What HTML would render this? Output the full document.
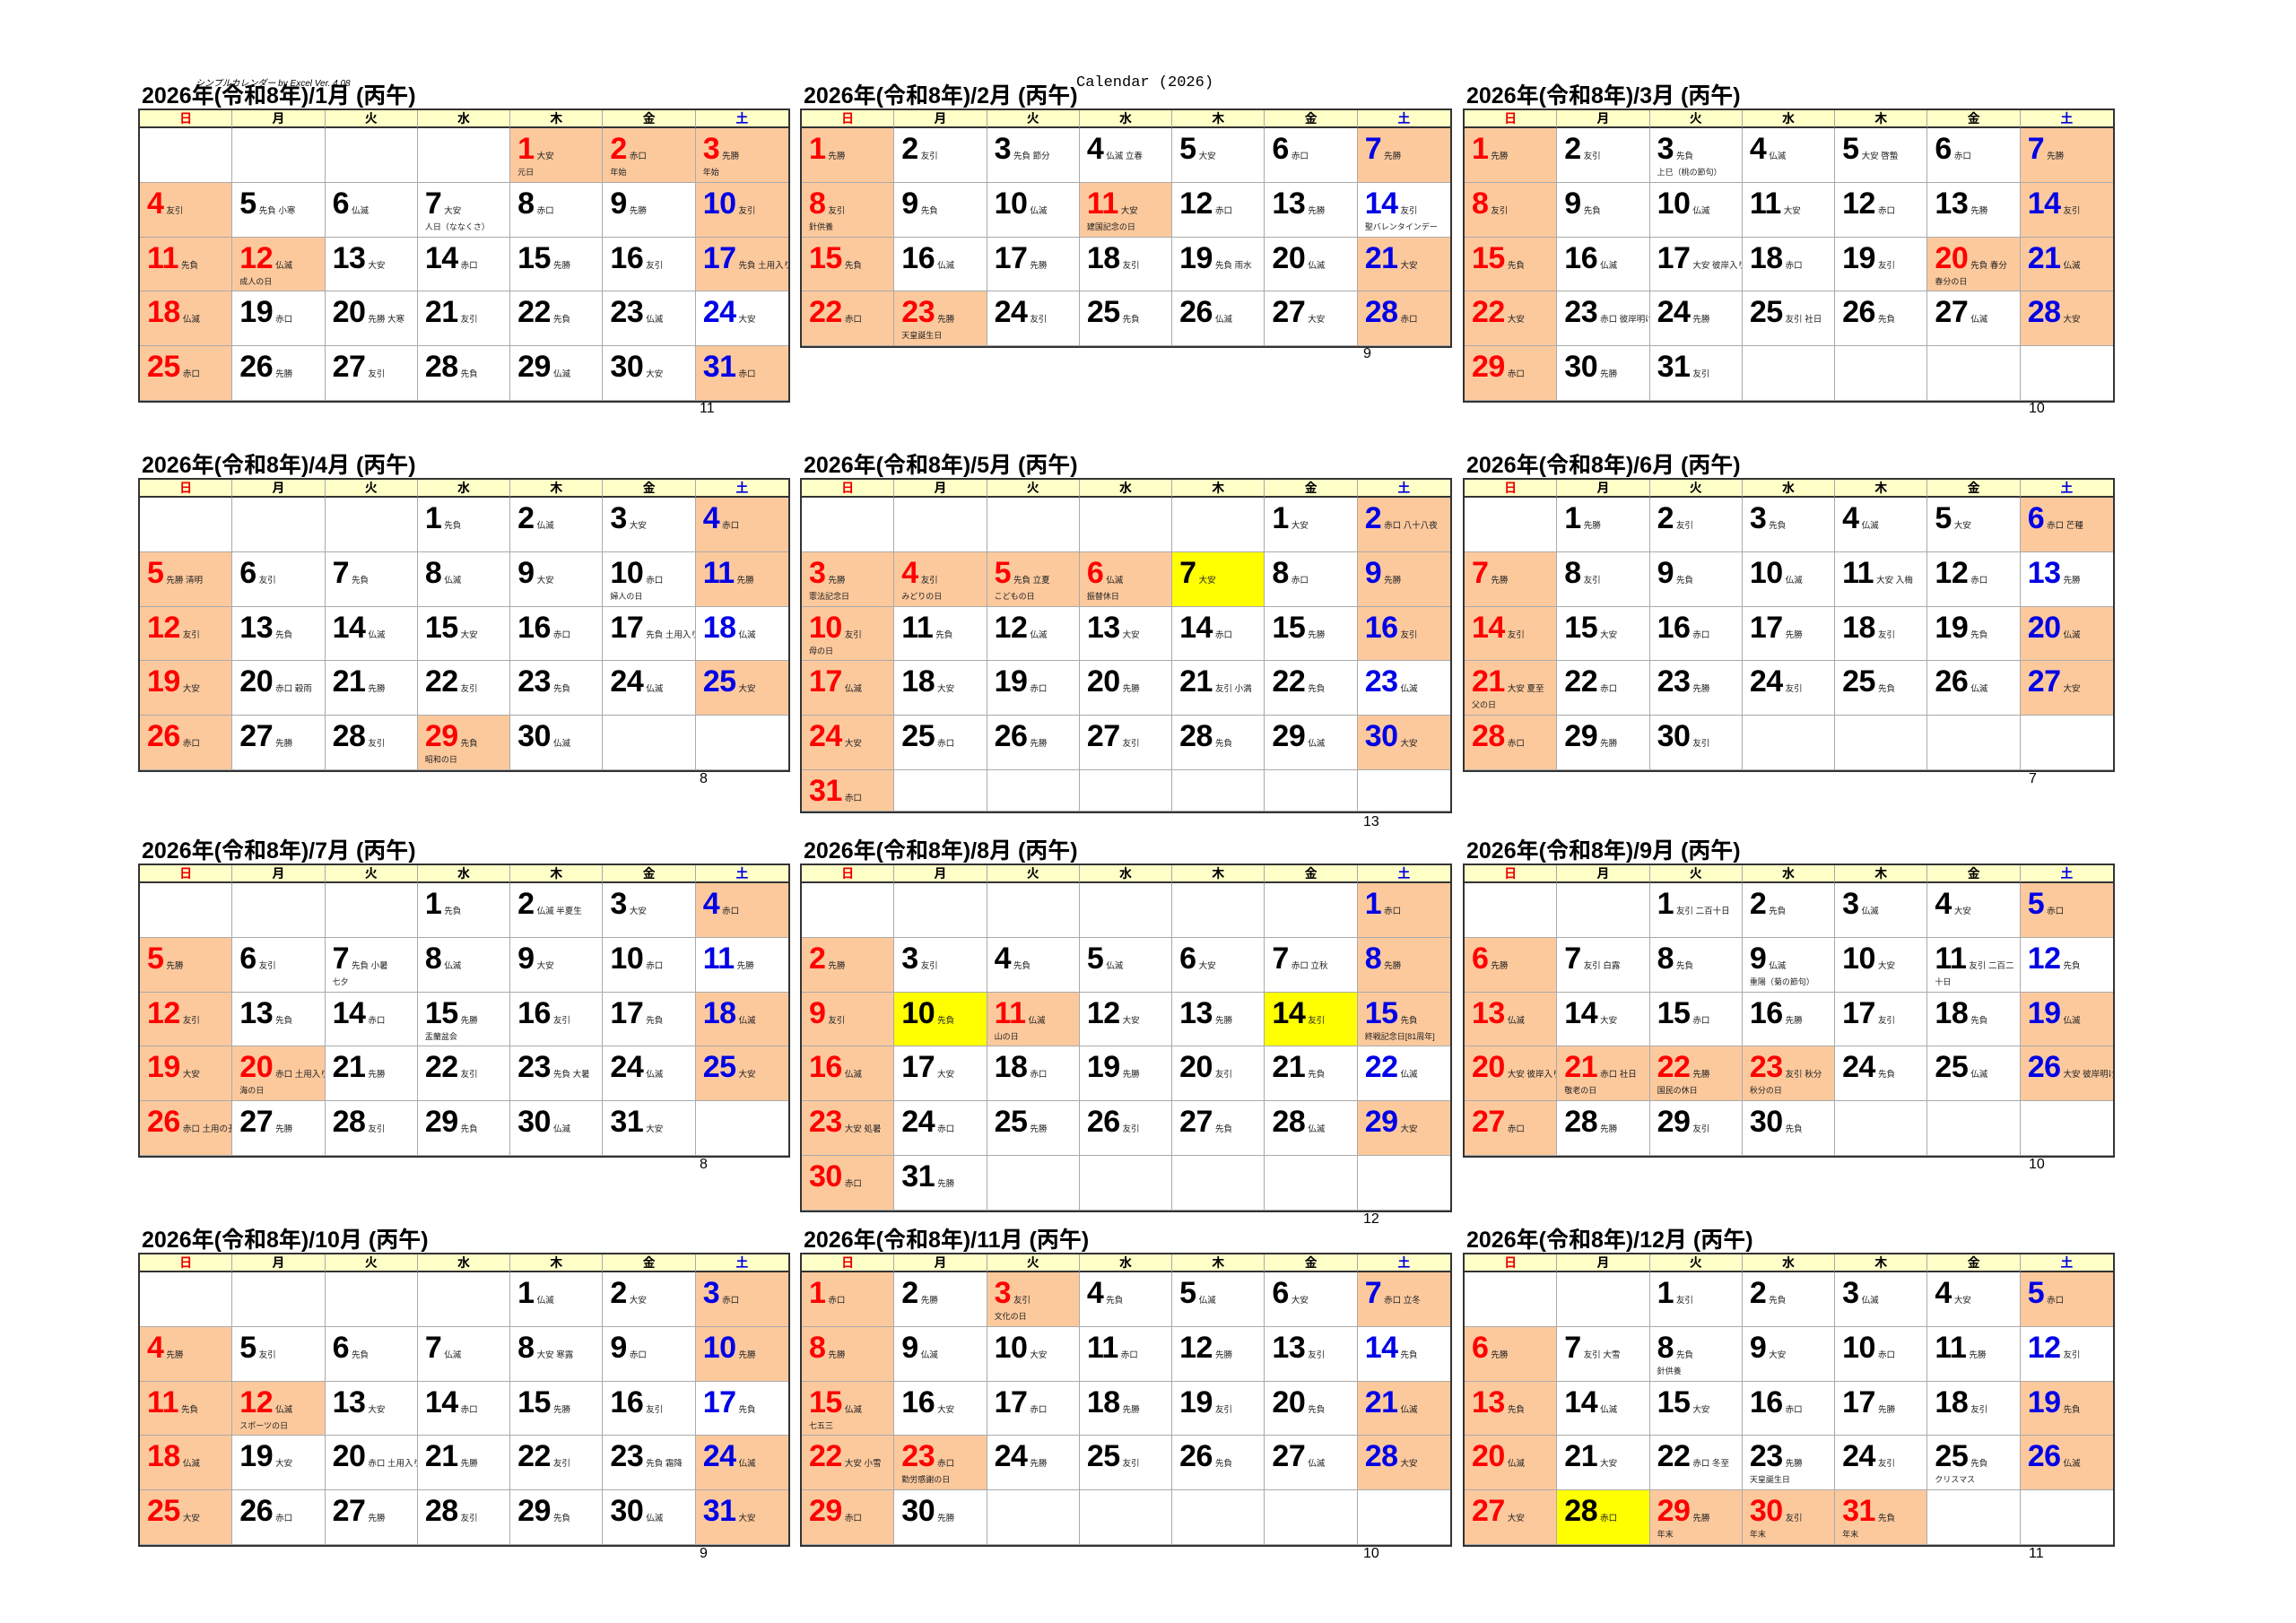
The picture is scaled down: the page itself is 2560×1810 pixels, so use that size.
<!DOCTYPE html>
<html><head><meta charset="utf-8"><style>
body{margin:0;width:2560px;height:1810px;background:#fff;position:relative;overflow:hidden;font-family:"Liberation Sans","Noto Sans CJK JP",sans-serif}
.m{position:absolute;width:727px;display:grid;grid-template-columns:repeat(7,1fr);grid-template-rows:20px;grid-auto-rows:60.8px;border:2px solid #333;box-sizing:border-box;background:#fff}
.m.s6{grid-template-rows:20px repeat(5,60.8px) 46px}
.m>div{border-right:1px solid #aaa;border-bottom:1px solid #aaa;position:relative;padding:6px 0 0 8px;line-height:34px;white-space:nowrap;overflow:hidden;color:#000;box-sizing:border-box}
.m>div:nth-child(7n){border-right:0}
.m>div.w{background:#ffffc8;border-bottom:2px solid #333;font-size:14px;font-weight:bold;text-align:center;line-height:18px;padding:0}
.w.r{color:#e00}.w.b{color:#0000e0}
b{font-size:34px;font-weight:bold;letter-spacing:-.5px}
i{font-style:normal;font-size:9.5px;margin-left:3px;color:#222}
u{position:absolute;left:8px;top:44px;font-size:9px;text-decoration:none;line-height:10px;color:#222}
.o{background:#fcc99d}.y{background:#ffff00}.r b{color:#f00}.b b{color:#0000e6}
.t{position:absolute;font-size:25px;font-weight:bold;line-height:28px;white-space:nowrap}
.p{position:absolute;font-family:"Liberation Sans Narrow","Liberation Sans",sans-serif;font-size:16px;line-height:18px}
</style></head><body>
<div style="position:absolute;left:218px;top:84px;font-size:10px;font-style:italic;white-space:nowrap">シンプルカレンダー by Excel Ver. 4.08</div>
<div style="position:absolute;left:1200px;top:83px;font-family:'Liberation Mono',monospace;font-size:17px;white-space:nowrap">Calendar (2026)</div>

<!-- Jan -->
<div class="t" style="left:158px;top:93px">2026年(令和8年)/1月 (丙午)</div>
<div class="m" style="left:154px;top:121px">
<div class="w r">日</div><div class="w">月</div><div class="w">火</div><div class="w">水</div><div class="w">木</div><div class="w">金</div><div class="w b">土</div>
<div></div><div></div><div></div><div></div><div class="o r"><b>1</b><i>大安</i><u>元日</u></div><div class="o r"><b>2</b><i>赤口</i><u>年始</u></div><div class="o r"><b>3</b><i>先勝</i><u>年始</u></div>
<div class="o r"><b>4</b><i>友引</i></div><div><b>5</b><i>先負 小寒</i></div><div><b>6</b><i>仏滅</i></div><div><b>7</b><i>大安</i><u>人日（ななくさ）</u></div><div><b>8</b><i>赤口</i></div><div><b>9</b><i>先勝</i></div><div class="o b"><b>10</b><i>友引</i></div>
<div class="o r"><b>11</b><i>先負</i></div><div class="o r"><b>12</b><i>仏滅</i><u>成人の日</u></div><div><b>13</b><i>大安</i></div><div><b>14</b><i>赤口</i></div><div><b>15</b><i>先勝</i></div><div><b>16</b><i>友引</i></div><div class="o b"><b>17</b><i>先負 土用入り</i></div>
<div class="o r"><b>18</b><i>仏滅</i></div><div><b>19</b><i>赤口</i></div><div><b>20</b><i>先勝 大寒</i></div><div><b>21</b><i>友引</i></div><div><b>22</b><i>先負</i></div><div><b>23</b><i>仏滅</i></div><div class="b"><b>24</b><i>大安</i></div>
<div class="o r"><b>25</b><i>赤口</i></div><div><b>26</b><i>先勝</i></div><div><b>27</b><i>友引</i></div><div><b>28</b><i>先負</i></div><div><b>29</b><i>仏滅</i></div><div><b>30</b><i>大安</i></div><div class="o b"><b>31</b><i>赤口</i></div>
</div>
<div class="p" style="left:780px;top:447px">11</div>

<!-- Feb -->
<div class="t" style="left:896px;top:93px">2026年(令和8年)/2月 (丙午)</div>
<div class="m" style="left:892px;top:121px">
<div class="w r">日</div><div class="w">月</div><div class="w">火</div><div class="w">水</div><div class="w">木</div><div class="w">金</div><div class="w b">土</div>
<div class="o r"><b>1</b><i>先勝</i></div><div><b>2</b><i>友引</i></div><div><b>3</b><i>先負 節分</i></div><div><b>4</b><i>仏滅 立春</i></div><div><b>5</b><i>大安</i></div><div><b>6</b><i>赤口</i></div><div class="o b"><b>7</b><i>先勝</i></div>
<div class="o r"><b>8</b><i>友引</i><u>針供養</u></div><div><b>9</b><i>先負</i></div><div><b>10</b><i>仏滅</i></div><div class="o r"><b>11</b><i>大安</i><u>建国記念の日</u></div><div><b>12</b><i>赤口</i></div><div><b>13</b><i>先勝</i></div><div class="b"><b>14</b><i>友引</i><u>聖バレンタインデー</u></div>
<div class="o r"><b>15</b><i>先負</i></div><div><b>16</b><i>仏滅</i></div><div><b>17</b><i>先勝</i></div><div><b>18</b><i>友引</i></div><div><b>19</b><i>先負 雨水</i></div><div><b>20</b><i>仏滅</i></div><div class="o b"><b>21</b><i>大安</i></div>
<div class="o r"><b>22</b><i>赤口</i></div><div class="o r"><b>23</b><i>先勝</i><u>天皇誕生日</u></div><div><b>24</b><i>友引</i></div><div><b>25</b><i>先負</i></div><div><b>26</b><i>仏滅</i></div><div><b>27</b><i>大安</i></div><div class="o b"><b>28</b><i>赤口</i></div>
</div>
<div class="p" style="left:1520px;top:386px">9</div>

<!-- Mar -->
<div class="t" style="left:1635px;top:93px">2026年(令和8年)/3月 (丙午)</div>
<div class="m" style="left:1631px;top:121px">
<div class="w r">日</div><div class="w">月</div><div class="w">火</div><div class="w">水</div><div class="w">木</div><div class="w">金</div><div class="w b">土</div>
<div class="o r"><b>1</b><i>先勝</i></div><div><b>2</b><i>友引</i></div><div><b>3</b><i>先負</i><u>上巳（桃の節句）</u></div><div><b>4</b><i>仏滅</i></div><div><b>5</b><i>大安 啓蟄</i></div><div><b>6</b><i>赤口</i></div><div class="o b"><b>7</b><i>先勝</i></div>
<div class="o r"><b>8</b><i>友引</i></div><div><b>9</b><i>先負</i></div><div><b>10</b><i>仏滅</i></div><div><b>11</b><i>大安</i></div><div><b>12</b><i>赤口</i></div><div><b>13</b><i>先勝</i></div><div class="o b"><b>14</b><i>友引</i></div>
<div class="o r"><b>15</b><i>先負</i></div><div><b>16</b><i>仏滅</i></div><div><b>17</b><i>大安 彼岸入り</i></div><div><b>18</b><i>赤口</i></div><div><b>19</b><i>友引</i></div><div class="o r"><b>20</b><i>先負 春分</i><u>春分の日</u></div><div class="o b"><b>21</b><i>仏滅</i></div>
<div class="o r"><b>22</b><i>大安</i></div><div><b>23</b><i>赤口 彼岸明け</i></div><div><b>24</b><i>先勝</i></div><div><b>25</b><i>友引 社日</i></div><div><b>26</b><i>先負</i></div><div><b>27</b><i>仏滅</i></div><div class="o b"><b>28</b><i>大安</i></div>
<div class="o r"><b>29</b><i>赤口</i></div><div><b>30</b><i>先勝</i></div><div><b>31</b><i>友引</i></div><div></div><div></div><div></div><div></div>
</div>
<div class="p" style="left:2262px;top:447px">10</div>

<!-- Apr -->
<div class="t" style="left:158px;top:505px">2026年(令和8年)/4月 (丙午)</div>
<div class="m" style="left:154px;top:533px">
<div class="w r">日</div><div class="w">月</div><div class="w">火</div><div class="w">水</div><div class="w">木</div><div class="w">金</div><div class="w b">土</div>
<div></div><div></div><div></div><div><b>1</b><i>先負</i></div><div><b>2</b><i>仏滅</i></div><div><b>3</b><i>大安</i></div><div class="o b"><b>4</b><i>赤口</i></div>
<div class="o r"><b>5</b><i>先勝 清明</i></div><div><b>6</b><i>友引</i></div><div><b>7</b><i>先負</i></div><div><b>8</b><i>仏滅</i></div><div><b>9</b><i>大安</i></div><div><b>10</b><i>赤口</i><u>婦人の日</u></div><div class="o b"><b>11</b><i>先勝</i></div>
<div class="o r"><b>12</b><i>友引</i></div><div><b>13</b><i>先負</i></div><div><b>14</b><i>仏滅</i></div><div><b>15</b><i>大安</i></div><div><b>16</b><i>赤口</i></div><div><b>17</b><i>先負 土用入り</i></div><div class="b"><b>18</b><i>仏滅</i></div>
<div class="o r"><b>19</b><i>大安</i></div><div><b>20</b><i>赤口 穀雨</i></div><div><b>21</b><i>先勝</i></div><div><b>22</b><i>友引</i></div><div><b>23</b><i>先負</i></div><div><b>24</b><i>仏滅</i></div><div class="o b"><b>25</b><i>大安</i></div>
<div class="o r"><b>26</b><i>赤口</i></div><div><b>27</b><i>先勝</i></div><div><b>28</b><i>友引</i></div><div class="o r"><b>29</b><i>先負</i><u>昭和の日</u></div><div><b>30</b><i>仏滅</i></div><div></div><div></div>
</div>
<div class="p" style="left:780px;top:860px">8</div>

<!-- May -->
<div class="t" style="left:896px;top:505px">2026年(令和8年)/5月 (丙午)</div>
<div class="m s6" style="left:892px;top:533px">
<div class="w r">日</div><div class="w">月</div><div class="w">火</div><div class="w">水</div><div class="w">木</div><div class="w">金</div><div class="w b">土</div>
<div></div><div></div><div></div><div></div><div></div><div><b>1</b><i>大安</i></div><div class="o b"><b>2</b><i>赤口 八十八夜</i></div>
<div class="o r"><b>3</b><i>先勝</i><u>憲法記念日</u></div><div class="o r"><b>4</b><i>友引</i><u>みどりの日</u></div><div class="o r"><b>5</b><i>先負 立夏</i><u>こどもの日</u></div><div class="o r"><b>6</b><i>仏滅</i><u>振替休日</u></div><div class="y"><b>7</b><i>大安</i></div><div><b>8</b><i>赤口</i></div><div class="o b"><b>9</b><i>先勝</i></div>
<div class="o r"><b>10</b><i>友引</i><u>母の日</u></div><div><b>11</b><i>先負</i></div><div><b>12</b><i>仏滅</i></div><div><b>13</b><i>大安</i></div><div><b>14</b><i>赤口</i></div><div><b>15</b><i>先勝</i></div><div class="o b"><b>16</b><i>友引</i></div>
<div class="o r"><b>17</b><i>仏滅</i></div><div><b>18</b><i>大安</i></div><div><b>19</b><i>赤口</i></div><div><b>20</b><i>先勝</i></div><div><b>21</b><i>友引 小満</i></div><div><b>22</b><i>先負</i></div><div class="b"><b>23</b><i>仏滅</i></div>
<div class="o r"><b>24</b><i>大安</i></div><div><b>25</b><i>赤口</i></div><div><b>26</b><i>先勝</i></div><div><b>27</b><i>友引</i></div><div><b>28</b><i>先負</i></div><div><b>29</b><i>仏滅</i></div><div class="o b"><b>30</b><i>大安</i></div>
<div class="o r"><b>31</b><i>赤口</i></div><div></div><div></div><div></div><div></div><div></div><div></div>
</div>
<div class="p" style="left:1520px;top:908px">13</div>

<!-- Jun -->
<div class="t" style="left:1635px;top:505px">2026年(令和8年)/6月 (丙午)</div>
<div class="m" style="left:1631px;top:533px">
<div class="w r">日</div><div class="w">月</div><div class="w">火</div><div class="w">水</div><div class="w">木</div><div class="w">金</div><div class="w b">土</div>
<div></div><div><b>1</b><i>先勝</i></div><div><b>2</b><i>友引</i></div><div><b>3</b><i>先負</i></div><div><b>4</b><i>仏滅</i></div><div><b>5</b><i>大安</i></div><div class="o b"><b>6</b><i>赤口 芒種</i></div>
<div class="o r"><b>7</b><i>先勝</i></div><div><b>8</b><i>友引</i></div><div><b>9</b><i>先負</i></div><div><b>10</b><i>仏滅</i></div><div><b>11</b><i>大安 入梅</i></div><div><b>12</b><i>赤口</i></div><div class="b"><b>13</b><i>先勝</i></div>
<div class="o r"><b>14</b><i>友引</i></div><div><b>15</b><i>大安</i></div><div><b>16</b><i>赤口</i></div><div><b>17</b><i>先勝</i></div><div><b>18</b><i>友引</i></div><div><b>19</b><i>先負</i></div><div class="o b"><b>20</b><i>仏滅</i></div>
<div class="o r"><b>21</b><i>大安 夏至</i><u>父の日</u></div><div><b>22</b><i>赤口</i></div><div><b>23</b><i>先勝</i></div><div><b>24</b><i>友引</i></div><div><b>25</b><i>先負</i></div><div><b>26</b><i>仏滅</i></div><div class="o b"><b>27</b><i>大安</i></div>
<div class="o r"><b>28</b><i>赤口</i></div><div><b>29</b><i>先勝</i></div><div><b>30</b><i>友引</i></div><div></div><div></div><div></div><div></div>
</div>
<div class="p" style="left:2262px;top:860px">7</div>

<!-- Jul -->
<div class="t" style="left:158px;top:935px">2026年(令和8年)/7月 (丙午)</div>
<div class="m" style="left:154px;top:963px">
<div class="w r">日</div><div class="w">月</div><div class="w">火</div><div class="w">水</div><div class="w">木</div><div class="w">金</div><div class="w b">土</div>
<div></div><div></div><div></div><div><b>1</b><i>先負</i></div><div><b>2</b><i>仏滅 半夏生</i></div><div><b>3</b><i>大安</i></div><div class="o b"><b>4</b><i>赤口</i></div>
<div class="o r"><b>5</b><i>先勝</i></div><div><b>6</b><i>友引</i></div><div><b>7</b><i>先負 小暑</i><u>七夕</u></div><div><b>8</b><i>仏滅</i></div><div><b>9</b><i>大安</i></div><div><b>10</b><i>赤口</i></div><div class="b"><b>11</b><i>先勝</i></div>
<div class="o r"><b>12</b><i>友引</i></div><div><b>13</b><i>先負</i></div><div><b>14</b><i>赤口</i></div><div><b>15</b><i>先勝</i><u>盂蘭盆会</u></div><div><b>16</b><i>友引</i></div><div><b>17</b><i>先負</i></div><div class="o b"><b>18</b><i>仏滅</i></div>
<div class="o r"><b>19</b><i>大安</i></div><div class="o r"><b>20</b><i>赤口 土用入り</i><u>海の日</u></div><div><b>21</b><i>先勝</i></div><div><b>22</b><i>友引</i></div><div><b>23</b><i>先負 大暑</i></div><div><b>24</b><i>仏滅</i></div><div class="o b"><b>25</b><i>大安</i></div>
<div class="o r"><b>26</b><i>赤口 土用の丑</i></div><div><b>27</b><i>先勝</i></div><div><b>28</b><i>友引</i></div><div><b>29</b><i>先負</i></div><div><b>30</b><i>仏滅</i></div><div><b>31</b><i>大安</i></div><div></div>
</div>
<div class="p" style="left:780px;top:1290px">8</div>

<!-- Aug -->
<div class="t" style="left:896px;top:935px">2026年(令和8年)/8月 (丙午)</div>
<div class="m" style="left:892px;top:963px">
<div class="w r">日</div><div class="w">月</div><div class="w">火</div><div class="w">水</div><div class="w">木</div><div class="w">金</div><div class="w b">土</div>
<div></div><div></div><div></div><div></div><div></div><div></div><div class="o b"><b>1</b><i>赤口</i></div>
<div class="o r"><b>2</b><i>先勝</i></div><div><b>3</b><i>友引</i></div><div><b>4</b><i>先負</i></div><div><b>5</b><i>仏滅</i></div><div><b>6</b><i>大安</i></div><div><b>7</b><i>赤口 立秋</i></div><div class="o b"><b>8</b><i>先勝</i></div>
<div class="o r"><b>9</b><i>友引</i></div><div class="y"><b>10</b><i>先負</i></div><div class="o r"><b>11</b><i>仏滅</i><u>山の日</u></div><div><b>12</b><i>大安</i></div><div><b>13</b><i>先勝</i></div><div class="y"><b>14</b><i>友引</i></div><div class="o b"><b>15</b><i>先負</i><u>終戦記念日[81周年]</u></div>
<div class="o r"><b>16</b><i>仏滅</i></div><div><b>17</b><i>大安</i></div><div><b>18</b><i>赤口</i></div><div><b>19</b><i>先勝</i></div><div><b>20</b><i>友引</i></div><div><b>21</b><i>先負</i></div><div class="b"><b>22</b><i>仏滅</i></div>
<div class="o r"><b>23</b><i>大安 処暑</i></div><div><b>24</b><i>赤口</i></div><div><b>25</b><i>先勝</i></div><div><b>26</b><i>友引</i></div><div><b>27</b><i>先負</i></div><div><b>28</b><i>仏滅</i></div><div class="o b"><b>29</b><i>大安</i></div>
<div class="o r"><b>30</b><i>赤口</i></div><div><b>31</b><i>先勝</i></div><div></div><div></div><div></div><div></div><div></div>
</div>
<div class="p" style="left:1520px;top:1351px">12</div>

<!-- Sep -->
<div class="t" style="left:1635px;top:935px">2026年(令和8年)/9月 (丙午)</div>
<div class="m" style="left:1631px;top:963px">
<div class="w r">日</div><div class="w">月</div><div class="w">火</div><div class="w">水</div><div class="w">木</div><div class="w">金</div><div class="w b">土</div>
<div></div><div></div><div><b>1</b><i>友引 二百十日</i></div><div><b>2</b><i>先負</i></div><div><b>3</b><i>仏滅</i></div><div><b>4</b><i>大安</i></div><div class="o b"><b>5</b><i>赤口</i></div>
<div class="o r"><b>6</b><i>先勝</i></div><div><b>7</b><i>友引 白露</i></div><div><b>8</b><i>先負</i></div><div><b>9</b><i>仏滅</i><u>重陽（菊の節句）</u></div><div><b>10</b><i>大安</i></div><div><b>11</b><i>友引 二百二</i><u>十日</u></div><div class="b"><b>12</b><i>先負</i></div>
<div class="o r"><b>13</b><i>仏滅</i></div><div><b>14</b><i>大安</i></div><div><b>15</b><i>赤口</i></div><div><b>16</b><i>先勝</i></div><div><b>17</b><i>友引</i></div><div><b>18</b><i>先負</i></div><div class="o b"><b>19</b><i>仏滅</i></div>
<div class="o r"><b>20</b><i>大安 彼岸入り</i></div><div class="o r"><b>21</b><i>赤口 社日</i><u>敬老の日</u></div><div class="o r"><b>22</b><i>先勝</i><u>国民の休日</u></div><div class="o r"><b>23</b><i>友引 秋分</i><u>秋分の日</u></div><div><b>24</b><i>先負</i></div><div><b>25</b><i>仏滅</i></div><div class="o b"><b>26</b><i>大安 彼岸明け</i></div>
<div class="o r"><b>27</b><i>赤口</i></div><div><b>28</b><i>先勝</i></div><div><b>29</b><i>友引</i></div><div><b>30</b><i>先負</i></div><div></div><div></div><div></div>
</div>
<div class="p" style="left:2262px;top:1290px">10</div>

<!-- Oct -->
<div class="t" style="left:158px;top:1369px">2026年(令和8年)/10月 (丙午)</div>
<div class="m" style="left:154px;top:1397px">
<div class="w r">日</div><div class="w">月</div><div class="w">火</div><div class="w">水</div><div class="w">木</div><div class="w">金</div><div class="w b">土</div>
<div></div><div></div><div></div><div></div><div><b>1</b><i>仏滅</i></div><div><b>2</b><i>大安</i></div><div class="o b"><b>3</b><i>赤口</i></div>
<div class="o r"><b>4</b><i>先勝</i></div><div><b>5</b><i>友引</i></div><div><b>6</b><i>先負</i></div><div><b>7</b><i>仏滅</i></div><div><b>8</b><i>大安 寒露</i></div><div><b>9</b><i>赤口</i></div><div class="o b"><b>10</b><i>先勝</i></div>
<div class="o r"><b>11</b><i>先負</i></div><div class="o r"><b>12</b><i>仏滅</i><u>スポーツの日</u></div><div><b>13</b><i>大安</i></div><div><b>14</b><i>赤口</i></div><div><b>15</b><i>先勝</i></div><div><b>16</b><i>友引</i></div><div class="b"><b>17</b><i>先負</i></div>
<div class="o r"><b>18</b><i>仏滅</i></div><div><b>19</b><i>大安</i></div><div><b>20</b><i>赤口 土用入り</i></div><div><b>21</b><i>先勝</i></div><div><b>22</b><i>友引</i></div><div><b>23</b><i>先負 霜降</i></div><div class="o b"><b>24</b><i>仏滅</i></div>
<div class="o r"><b>25</b><i>大安</i></div><div><b>26</b><i>赤口</i></div><div><b>27</b><i>先勝</i></div><div><b>28</b><i>友引</i></div><div><b>29</b><i>先負</i></div><div><b>30</b><i>仏滅</i></div><div class="o b"><b>31</b><i>大安</i></div>
</div>
<div class="p" style="left:780px;top:1724px">9</div>

<!-- Nov -->
<div class="t" style="left:896px;top:1369px">2026年(令和8年)/11月 (丙午)</div>
<div class="m" style="left:892px;top:1397px">
<div class="w r">日</div><div class="w">月</div><div class="w">火</div><div class="w">水</div><div class="w">木</div><div class="w">金</div><div class="w b">土</div>
<div class="o r"><b>1</b><i>赤口</i></div><div><b>2</b><i>先勝</i></div><div class="o r"><b>3</b><i>友引</i><u>文化の日</u></div><div><b>4</b><i>先負</i></div><div><b>5</b><i>仏滅</i></div><div><b>6</b><i>大安</i></div><div class="o b"><b>7</b><i>赤口 立冬</i></div>
<div class="o r"><b>8</b><i>先勝</i></div><div><b>9</b><i>仏滅</i></div><div><b>10</b><i>大安</i></div><div><b>11</b><i>赤口</i></div><div><b>12</b><i>先勝</i></div><div><b>13</b><i>友引</i></div><div class="b"><b>14</b><i>先負</i></div>
<div class="o r"><b>15</b><i>仏滅</i><u>七五三</u></div><div><b>16</b><i>大安</i></div><div><b>17</b><i>赤口</i></div><div><b>18</b><i>先勝</i></div><div><b>19</b><i>友引</i></div><div><b>20</b><i>先負</i></div><div class="o b"><b>21</b><i>仏滅</i></div>
<div class="o r"><b>22</b><i>大安 小雪</i></div><div class="o r"><b>23</b><i>赤口</i><u>勤労感謝の日</u></div><div><b>24</b><i>先勝</i></div><div><b>25</b><i>友引</i></div><div><b>26</b><i>先負</i></div><div><b>27</b><i>仏滅</i></div><div class="o b"><b>28</b><i>大安</i></div>
<div class="o r"><b>29</b><i>赤口</i></div><div><b>30</b><i>先勝</i></div><div></div><div></div><div></div><div></div><div></div>
</div>
<div class="p" style="left:1520px;top:1724px">10</div>

<!-- Dec -->
<div class="t" style="left:1635px;top:1369px">2026年(令和8年)/12月 (丙午)</div>
<div class="m" style="left:1631px;top:1397px">
<div class="w r">日</div><div class="w">月</div><div class="w">火</div><div class="w">水</div><div class="w">木</div><div class="w">金</div><div class="w b">土</div>
<div></div><div></div><div><b>1</b><i>友引</i></div><div><b>2</b><i>先負</i></div><div><b>3</b><i>仏滅</i></div><div><b>4</b><i>大安</i></div><div class="o b"><b>5</b><i>赤口</i></div>
<div class="o r"><b>6</b><i>先勝</i></div><div><b>7</b><i>友引 大雪</i></div><div><b>8</b><i>先負</i><u>針供養</u></div><div><b>9</b><i>大安</i></div><div><b>10</b><i>赤口</i></div><div><b>11</b><i>先勝</i></div><div class="b"><b>12</b><i>友引</i></div>
<div class="o r"><b>13</b><i>先負</i></div><div><b>14</b><i>仏滅</i></div><div><b>15</b><i>大安</i></div><div><b>16</b><i>赤口</i></div><div><b>17</b><i>先勝</i></div><div><b>18</b><i>友引</i></div><div class="o b"><b>19</b><i>先負</i></div>
<div class="o r"><b>20</b><i>仏滅</i></div><div><b>21</b><i>大安</i></div><div><b>22</b><i>赤口 冬至</i></div><div><b>23</b><i>先勝</i><u>天皇誕生日</u></div><div><b>24</b><i>友引</i></div><div><b>25</b><i>先負</i><u>クリスマス</u></div><div class="o b"><b>26</b><i>仏滅</i></div>
<div class="o r"><b>27</b><i>大安</i></div><div class="y"><b>28</b><i>赤口</i></div><div class="o r"><b>29</b><i>先勝</i><u>年末</u></div><div class="o r"><b>30</b><i>友引</i><u>年末</u></div><div class="o r"><b>31</b><i>先負</i><u>年末</u></div><div></div><div></div>
</div>
<div class="p" style="left:2262px;top:1724px">11</div>
</body></html>
